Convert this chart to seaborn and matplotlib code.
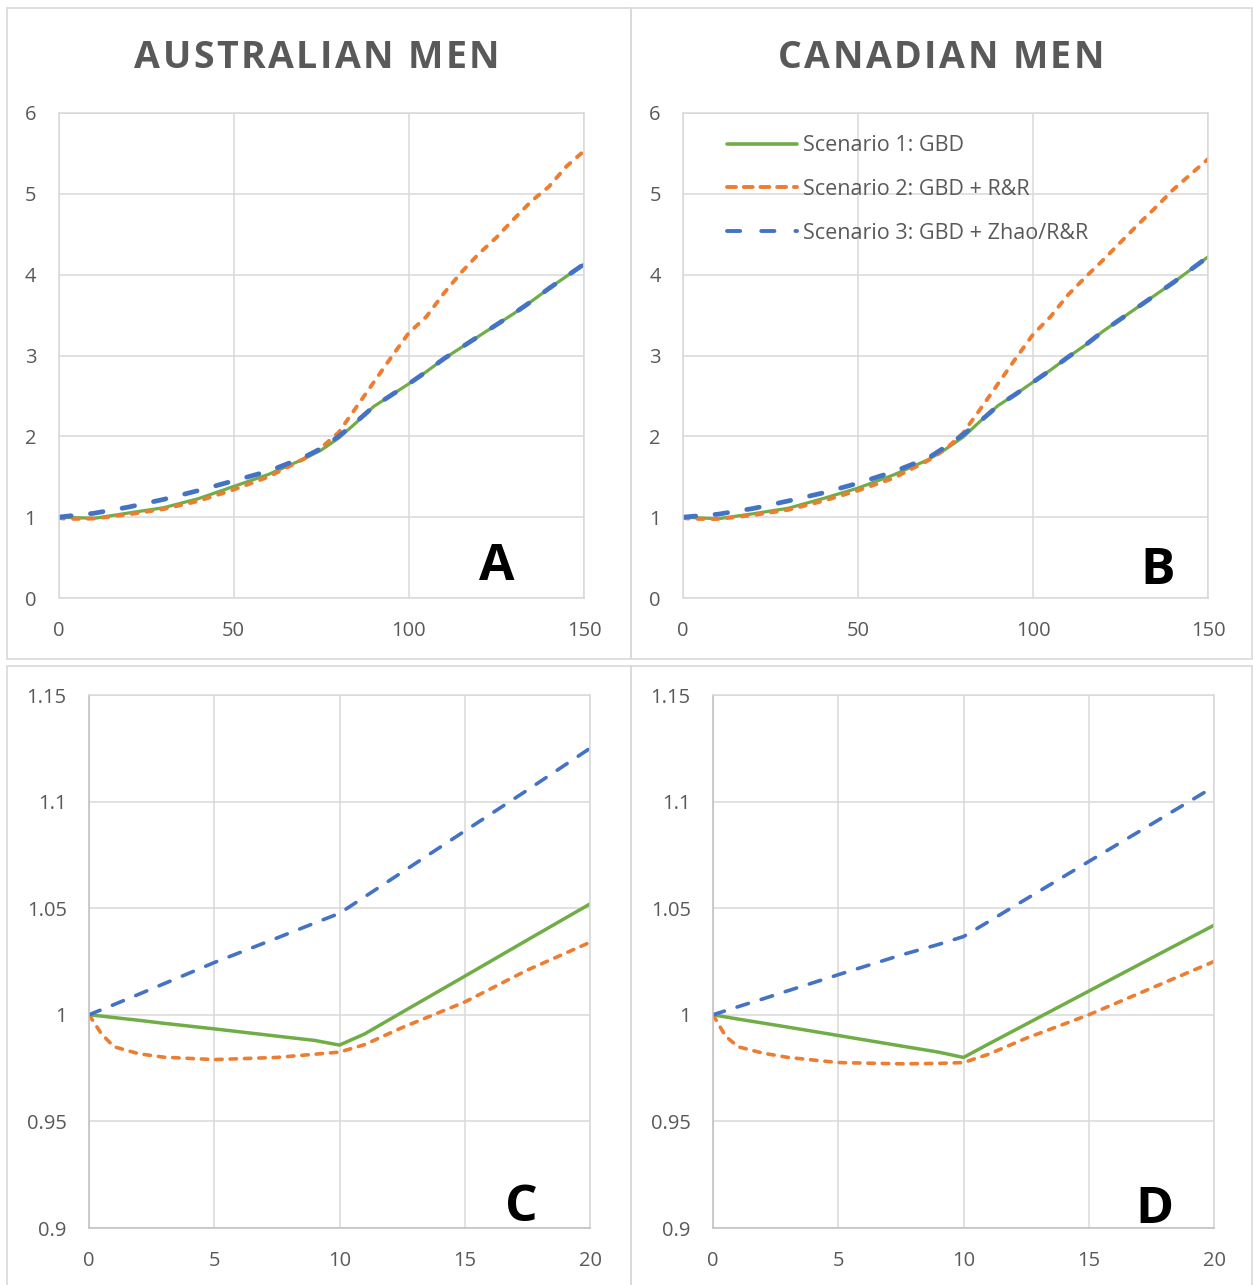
import numpy as np
import pandas as pd
import matplotlib
matplotlib.use("Agg")
import matplotlib.pyplot as plt
import seaborn as sns
from matplotlib.lines import Line2D
from matplotlib.patches import Rectangle

# ---------------- data ----------------
years = [0, 0.5, 1, 2, 3, 5, 7.5, 9, 10, 11, 12.5, 15, 17.5, 20, 30, 40, 50, 60,
         70, 75, 80, 85, 90, 95, 100, 105, 110, 115, 120, 125, 130, 135, 140, 145, 150]

au_s1 = [1.0, 0.9994, 0.9987, 0.9974, 0.996, 0.9934, 0.990, 0.988, 0.9858, 0.991, 1.0012,
         1.0181, 1.0351, 1.052, 1.117, 1.23, 1.38, 1.53, 1.72, 1.83, 1.98, 2.17, 2.37, 2.51,
         2.65, 2.80, 2.96, 3.10, 3.24, 3.38, 3.52, 3.67, 3.83, 3.98, 4.13]
au_s2 = [1.0, 0.991, 0.985, 0.9817, 0.9801, 0.979, 0.980, 0.9815, 0.9825, 0.986, 0.994,
         1.006, 1.021, 1.034, 1.10, 1.20, 1.34, 1.50, 1.72, 1.86, 2.05, 2.36, 2.67, 2.98,
         3.28, 3.48, 3.77, 4.03, 4.26, 4.46, 4.69, 4.91, 5.09, 5.34, 5.53]
au_s3 = [1.0, 1.0024, 1.0048, 1.0097, 1.0146, 1.0245, 1.036, 1.043, 1.0476, 1.0553, 1.0669,
         1.0862, 1.1054, 1.125, 1.22, 1.33, 1.45, 1.57, 1.74, 1.85, 2.00, 2.18, 2.37, 2.51,
         2.65, 2.80, 2.96, 3.10, 3.24, 3.38, 3.52, 3.67, 3.83, 3.98, 4.13]

ca_s1 = [1.0, 0.999, 0.998, 0.9961, 0.9942, 0.9903, 0.9854, 0.9825, 0.980, 0.9863, 0.9956,
         1.0111, 1.0266, 1.042, 1.11, 1.23, 1.36, 1.52, 1.71, 1.84, 1.99, 2.19, 2.38, 2.52,
         2.67, 2.82, 2.98, 3.13, 3.30, 3.45, 3.60, 3.75, 3.90, 4.06, 4.22]
ca_s2 = [1.0, 0.990, 0.985, 0.982, 0.980, 0.9776, 0.977, 0.9772, 0.9776, 0.9815, 0.989,
         1.0, 1.0125, 1.025, 1.09, 1.20, 1.33, 1.48, 1.70, 1.84, 2.04, 2.34, 2.65, 2.96,
         3.26, 3.48, 3.75, 3.97, 4.18, 4.40, 4.62, 4.83, 5.05, 5.24, 5.43]
ca_s3 = [1.0, 1.0019, 1.0038, 1.0075, 1.0113, 1.0188, 1.028, 1.033, 1.0367, 1.0437, 1.0543,
         1.0719, 1.0894, 1.107, 1.20, 1.30, 1.42, 1.56, 1.73, 1.87, 2.02, 2.19, 2.38, 2.52,
         2.67, 2.82, 2.98, 3.13, 3.30, 3.45, 3.60, 3.75, 3.90, 4.06, 4.22]

scenario_labels = ["Scenario 1: GBD", "Scenario 2: GBD + R&R", "Scenario 3: GBD + Zhao/R&R"]
titles = ["AUSTRALIAN MEN", "CANADIAN MEN"]
panel_letters = ["A", "B", "C", "D"]

top_xticks = [0, 50, 100, 150]
top_yticks = [0, 1, 2, 3, 4, 5, 6]
bot_xticks = [0, 5, 10, 15, 20]
bot_yticks = [0.9, 0.95, 1.0, 1.05, 1.1, 1.15]
bot_ylabels = ["0.9", "0.95", "1", "1.05", "1.1", "1.15"]

# ---------------- style ----------------
sns.set_theme(style="white")
plt.rcParams['font.family'] = ['Open Sans', 'DejaVu Sans']

GREEN, ORANGE, BLUE = "#70AD47", "#ED7D31", "#4472C4"
TXT = "#595959"
GRID = "#D9D9D9"
AXL = "#BFBFBF"

W, H = 1253, 1285
fig = plt.figure(figsize=(W / 100, H / 100), dpi=100)


def fx(px):
    return px / W


def fy(py):
    return 1 - py / H


def make_axes(x0, x1, ytop, ybot):
    return fig.add_axes([fx(x0), fy(ybot), fx(x1) - fx(x0), fy(ytop) - fy(ybot)])


# panel frames
for (x0, x1, y0, y1) in [(7, 631, 8, 659), (631, 1252, 8, 659),
                         (7, 631, 666, 1290), (631, 1252, 666, 1290)]:
    fig.patches.append(Rectangle((fx(x0), fy(y1)), fx(x1) - fx(x0), fy(y0) - fy(y1),
                                 transform=fig.transFigure, fill=False,
                                 edgecolor=GRID, linewidth=1.2, zorder=0))

axA = make_axes(58.5, 584, 113, 598)
axB = make_axes(683, 1208, 113, 598)
axC = make_axes(89, 590, 695, 1228)
axD = make_axes(713, 1214, 695, 1228)

top_style = dict(
    s1=dict(lw=2.3, dashes=None),
    s2=dict(lw=2.8, dashes=(1.5, 2.3)),
    s3=dict(lw=3.4, dashes=(2.7, 4.1)),
)
bot_style = dict(
    s1=dict(lw=2.5, dashes=None),
    s2=dict(lw=2.6, dashes=(1.78, 2.2)),
    s3=dict(lw=2.6, dashes=(3.3, 3.7)),
)


def draw(ax, s1, s2, s3, style):
    df = pd.DataFrame({"x": years, "s1": s1, "s2": s2, "s3": s3})
    for key, col in [("s1", GREEN), ("s2", ORANGE), ("s3", BLUE)]:
        st = style[key]
        sns.lineplot(data=df, x="x", y=key, ax=ax, color=col, linewidth=st["lw"],
                     estimator=None, sort=False)
        ln = ax.lines[-1]
        ln.set_solid_capstyle("round")
        ln.set_solid_joinstyle("round")
        if st["dashes"] is not None:
            ln.set_dashes(st["dashes"])
            ln.set_dash_capstyle("round")


def style_axes(ax, xt, yt, ylab, xlim, ylim, dark_axes):
    ax.set_xlim(*xlim)
    ax.set_ylim(*ylim)
    ax.set_xticks(xt)
    ax.set_xticklabels([str(v) for v in xt])
    ax.set_yticks(yt)
    ax.set_yticklabels(ylab)
    ax.set_xlabel("")
    ax.set_ylabel("")
    ax.grid(True, color=GRID, linewidth=1.1)
    ax.set_axisbelow(True)
    for sp in ax.spines.values():
        sp.set_color(GRID)
        sp.set_linewidth(1.1)
    if dark_axes:
        ax.spines["left"].set_color(AXL)
        ax.spines["bottom"].set_color(AXL)
    ax.tick_params(axis="both", length=0, labelsize=14.5, labelcolor=TXT)
    ax.tick_params(axis="y", pad=16)
    ax.tick_params(axis="x", pad=16.5)
    ax.set_facecolor("white")


draw(axA, au_s1, au_s2, au_s3, top_style)
draw(axB, ca_s1, ca_s2, ca_s3, top_style)
draw(axC, au_s1, au_s2, au_s3, bot_style)
draw(axD, ca_s1, ca_s2, ca_s3, bot_style)

for ax in (axA, axB):
    style_axes(ax, top_xticks, top_yticks, [str(v) for v in top_yticks], (0, 150), (0, 6), False)
for ax in (axC, axD):
    style_axes(ax, bot_xticks, bot_yticks, bot_ylabels, (0, 20), (0.9, 1.15), True)

# legend in panel B
h1 = Line2D([], [], color=GREEN, lw=2.6, solid_capstyle="round")
h2 = Line2D([], [], color=ORANGE, lw=2.8, dash_capstyle="round")
h2.set_dashes((2.3, 2.0))
h3 = Line2D([], [], color=BLUE, lw=2.8, dash_capstyle="round")
h3.set_dashes((3.4, 5.4))
leg = axB.legend([h1, h2, h3], scenario_labels, loc="upper left",
                 bbox_to_anchor=(0.0838, 0.954), frameon=False, borderpad=0,
                 borderaxespad=0, handlelength=3.26, handletextpad=0.29,
                 labelspacing=1.05, fontsize=15.5)
for t in leg.get_texts():
    t.set_color(TXT)

# titles with letter spacing
fig.canvas.draw()
renderer = fig.canvas.get_renderer()


def spaced_title(cx, baseline, s, spacing, **kw):
    def width(txt):
        t = fig.text(0, 0, txt, **kw)
        w = t.get_window_extent(renderer).width
        t.remove()
        return w
    total = width(s) + spacing * (len(s) - 1)
    x0 = cx - total / 2
    for i, ch in enumerate(s):
        if ch == " ":
            continue
        pos = width(s[:i + 1]) - width(ch)
        fig.text(fx(x0 + pos + i * spacing), fy(baseline), ch, ha="left", va="baseline", **kw)


title_kw = dict(fontsize=27, fontweight="bold", color=TXT)
spaced_title(317, 67.5, titles[0], 2.4, **title_kw)
spaced_title(941, 67.5, titles[1], 2.4, **title_kw)

# panel letters
for (cx, base), letter in zip([(497, 580), (1158, 584), (521, 1221), (1154, 1223)], panel_letters):
    fig.text(fx(cx), fy(base), letter, ha="center", va="baseline",
             fontsize=37, fontweight="bold", color="black")

fig.savefig("out.png", dpi=100, facecolor="white")
